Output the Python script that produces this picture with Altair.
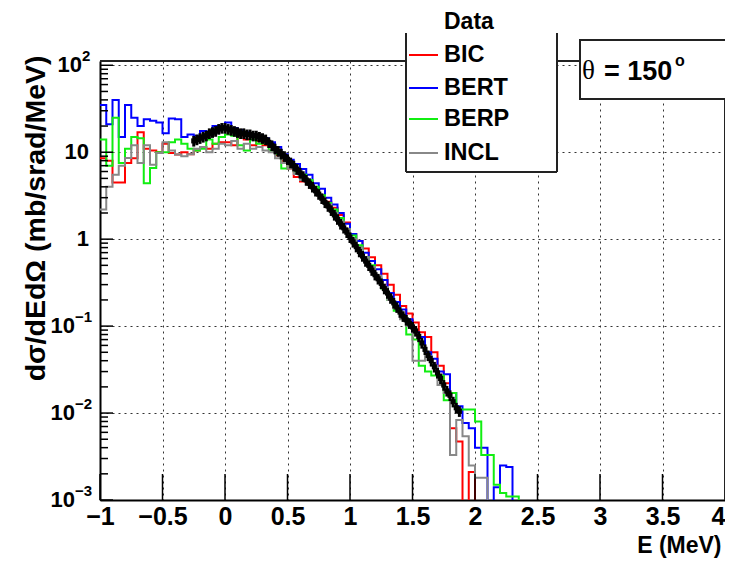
import altair as alt
import pandas as pd

# ---------------- data ----------------
MODEL_E0 = -1.0      # first bin lower edge (MeV)
MODEL_BIN = 0.05     # bin width (MeV)
MODEL_NAMES = ["BIC", "BERT", "BERP", "INCL"]
MODEL_COLORS = ["#ff0000", "#0000ff", "#11ee11", "#888888"]

BIC = [8.5, 8, 4.5, 4.5, 7.5, 8.5, 17, 11, 10.5, 10,
       12.5, 9.8, 9.4, 10, 9.5, 10.5, 11.5, 11, 12.5, 13,
       13, 12, 15.5, 14, 12, 13.5, 12, 11.5, 9.2, 8.0,
       6.5, 5.2, 4.6, 4.6, 3.6, 3.2, 2.7, 2.3, 1.9, 1.55,
       1.15, 0.95, 0.78, 0.62, 0.5, 0.4, 0.3, 0.23, 0.17, 0.14,
       0.11, 0.085, 0.075, 0.05, 0.035, 0.022, 0.0067, 0.0047, 0, 0.0021,
       0, 0, 0, 0, 0, 0, 0, 0]
BERT = [35, 21, 40, 15, 35, 25, 20, 24, 23, 22,
        16.5, 24.5, 24, 15, 16, 15.5, 17.5, 17, 20, 20,
        22, 19, 18, 17, 16, 15.5, 14.5, 13, 11.5, 9.5,
        8.2, 7.3, 6.4, 5.5, 4.4, 3.8, 3.0, 2.5, 2.0, 1.5,
        1.15, 0.95, 0.70, 0.56, 0.45, 0.34, 0.24, 0.19, 0.155, 0.12,
        0.085, 0.075, 0.05, 0.042, 0.03, 0.028, 0.017, 0.012, 0.0077, 0.0067,
        0.004, 0.004, 0, 0.0014, 0.0025, 0.0024, 0, 0]
BERP = [14, 7, 25, 7.5, 11, 15, 14.5, 4.4, 6.6, 10,
        10, 13, 14, 12.5, 11, 10.5, 11, 14, 12.5, 15,
        16, 15.5, 12, 10.5, 14, 12.5, 13, 10.5, 9.5, 6.5,
        7.5, 6.0, 5.5, 4.8, 4.0, 3.2, 2.6, 2.2, 1.75, 1.3,
        1.1, 0.85, 0.62, 0.5, 0.36, 0.27, 0.2, 0.15, 0.13, 0.08,
        0.07, 0.035, 0.03, 0.027, 0.027, 0.014, 0.017, 0.011, 0.011, 0.011,
        0.008, 0.0033, 0.0033, 0.0015, 0.0012, 0.0011, 0.0011, 0]
INCL = [2.2, 4, 5.5, 7, 8.6, 12, 7.5, 12, 7.2, 9.8,
        13, 10.5, 9.4, 9, 9.5, 11, 11.5, 10, 11, 12.5,
        12, 13.5, 11, 12.5, 11, 11.5, 10.5, 10, 8.5, 7.5,
        6.5, 5.6, 4.8, 4.2, 3.6, 3.0, 2.5, 2.0, 1.6, 1.3,
        1.0, 0.8, 0.62, 0.48, 0.38, 0.28, 0.2, 0.16, 0.12, 0.1,
        0.04, 0.04, 0.045, 0.035, 0.021, 0.017, 0.0033, 0.0083, 0.0054, 0.0025,
        0.0018, 0.0018, 0, 0, 0, 0, 0, 0]
MODEL_VALUES = [BIC, BERT, BERP, INCL]

DATA_E0 = -0.25
DATA_STEP = 0.025
DATA_V = [13.5, 14, 14.5, 15, 15.5, 16.5, 17, 17.5, 18.5, 19,
          19, 18.5, 18, 17.5, 17, 16.5, 16.5, 16, 16, 15.5,
          15.5, 15, 14.5, 14, 13, 12, 11, 10.3, 9.6, 9.0,
          8.3, 7.6, 7.0, 6.4, 5.8, 5.3, 4.8, 4.4, 4.0, 3.6,
          3.3, 2.95, 2.65, 2.4, 2.15, 1.9, 1.7, 1.5, 1.35, 1.2,
          1.05, 0.93, 0.82, 0.72, 0.64, 0.56, 0.5, 0.44, 0.39, 0.35,
          0.31, 0.27, 0.24, 0.21, 0.185, 0.165, 0.145, 0.13, 0.118, 0.108,
          0.098, 0.088, 0.076, 0.064, 0.054, 0.046, 0.04, 0.034, 0.029, 0.025,
          0.021, 0.018, 0.016, 0.0135, 0.0115, 0.0105]
DATA_REL_ERR = 0.14

X_TICKS = [-1, -0.5, 0, 0.5, 1, 1.5, 2, 2.5, 3, 3.5, 4]
Y_TICKS = [1e-3, 1e-2, 1e-1, 1, 10, 100]
Y_EXP = [-3, -2, -1, 0, 1, 2]
Y_SUP = ["\u22123", "\u22122", "\u22121", "", "", "2"]
Y_BASE = ["10", "10", "10", "1", "10", "10"]
Y_MINOR = [m * 10.0 ** e for e in range(-3, 2) for m in range(2, 10)]

# ---------------- layout / style ----------------
W, H = 625, 439
FLOOR = 1e-6
FONT = "Liberation Sans"

xs = alt.Scale(domain=[-1, 4], nice=False, zero=False)
ys = alt.Scale(type="log", domain=[1e-3, 112], nice=False)

xaxis = alt.Axis(values=X_TICKS, title="E (MeV)", grid=True, gridDash=[2, 4],
                 gridColor="#333", gridWidth=1, ticks=False,
                 domainColor="black", domainWidth=2,
                 labelFont=FONT, labelFontWeight="bold", labelFontSize=25,
                 labelColor="black", labelPadding=4, labelFlush=False,
                 labelOverlap=False,
                 labelAlign={"condition": {"test": "datum.value >= 4", "value": "right"},
                             "value": "center"},
                 labelExpr="replace(format(datum.value, '~g'), '-', '\u2212')",
                 titleFont=FONT, titleFontWeight="bold", titleFontSize=23,
                 titleColor="black", titleX=621, titleY=52,
                 titleAlign="right", titleBaseline="alphabetic")
yaxis = alt.Axis(values=Y_TICKS, title="d\u03c3/dEd\u03a9 (mb/srad/MeV)",
                 grid=True, gridDash=[2, 4], gridColor="#333", gridWidth=1,
                 ticks=False, labels=False, domainColor="black", domainWidth=2,
                 titleFont=FONT, titleFontWeight="bold", titleFontSize=28.5,
                 titleColor="black", titleAngle=270, titleX=-79, titleY=-6,
                 titleAlign="right", titleBaseline="top")

layers = []

# model histograms
for name, vals, col in zip(MODEL_NAMES, MODEL_VALUES, MODEL_COLORS):
    rows = [{"E": round(MODEL_E0 + MODEL_BIN * i, 4), "v": (v if v > 0 else FLOOR)}
            for i, v in enumerate(vals)]
    rows.append({"E": round(MODEL_E0 + MODEL_BIN * len(vals), 4), "v": FLOOR})
    layers.append(
        alt.Chart(pd.DataFrame(rows)).mark_line(
            interpolate="step-after", color=col, strokeWidth=2, clip=True
        ).encode(x=alt.X("E:Q", scale=xs, axis=xaxis),
                 y=alt.Y("v:Q", scale=ys, axis=yaxis))
    )

# experimental data with error bars
dd = pd.DataFrame({"E": [round(DATA_E0 + DATA_STEP * i, 4) for i in range(len(DATA_V))],
                   "v": DATA_V})
dd["lo"] = dd["v"] * (1 - DATA_REL_ERR)
dd["hi"] = dd["v"] * (1 + DATA_REL_ERR)
dd["E_lo"] = dd["E"] - DATA_STEP / 2
dd["E_hi"] = dd["E"] + DATA_STEP / 2
base_d = alt.Chart(dd)
layers.append(base_d.mark_rule(color="black", strokeWidth=3, clip=True).encode(
    x=alt.X("E:Q", scale=xs, axis=xaxis), y=alt.Y("lo:Q", scale=ys, axis=yaxis), y2="hi:Q"))
layers.append(base_d.mark_rule(color="black", strokeWidth=3, clip=True).encode(
    x=alt.X("E_lo:Q", scale=xs, axis=xaxis), x2="E_hi:Q",
    y=alt.Y("v:Q", scale=ys, axis=yaxis)))
layers.append(base_d.mark_square(color="black", size=26, opacity=1, clip=True).encode(
    x=alt.X("E:Q", scale=xs, axis=xaxis), y=alt.Y("v:Q", scale=ys, axis=yaxis)))

# inner ticks (ROOT style)
layers.append(alt.Chart(pd.DataFrame({"v": Y_TICKS})).mark_rule(color="black", strokeWidth=1.5).encode(
    y=alt.Y("v:Q", scale=ys, axis=yaxis), x=alt.value(0), x2=alt.value(13)))
layers.append(alt.Chart(pd.DataFrame({"v": Y_MINOR})).mark_rule(color="black", strokeWidth=1.5).encode(
    y=alt.Y("v:Q", scale=ys, axis=yaxis), x=alt.value(0), x2=alt.value(8)))
layers.append(alt.Chart(pd.DataFrame({"E": X_TICKS})).mark_rule(color="black", strokeWidth=1.5).encode(
    x=alt.X("E:Q", scale=xs, axis=xaxis), y=alt.value(H), y2=alt.value(H - 26)))

# y tick labels: "10" with superscript exponent (ROOT style)
yl = pd.DataFrame({"v": Y_TICKS, "exp": Y_EXP, "base": Y_BASE, "sup": Y_SUP})
yl["bx"] = [-25 if e < 0 else (-18 if e > 1 else -11) for e in Y_EXP]
layers.append(alt.Chart(yl).mark_text(font=FONT, fontWeight="bold", fontSize=22, color="black",
                                      align="right", baseline="middle").encode(
    y=alt.Y("v:Q", scale=ys, axis=yaxis), x=alt.X("bx:Q", scale=None), text="base:N"))
layers.append(alt.Chart(yl[yl["sup"] != ""]).mark_text(font=FONT, fontWeight="bold", fontSize=15,
                                                       color="black", align="left", baseline="middle",
                                                       dy=-9).encode(
    y=alt.Y("v:Q", scale=ys, axis=yaxis), x=alt.X("bx:Q", scale=None), text="sup:N"))

one = pd.DataFrame({"a": [0]})

def rule(x1, x2, y1, y2, col="#222", w=2):
    return alt.Chart(one).mark_rule(color=col, strokeWidth=w).encode(
        x=alt.value(x1), x2=alt.value(x2), y=alt.value(y1), y2=alt.value(y2))

def text(s, x, y, size, weight="bold", font=FONT, align="left"):
    return alt.Chart(one).mark_text(text=s, font=font, fontSize=size, fontWeight=weight,
                                    color="black", align=align, baseline="middle").encode(
        x=alt.value(x), y=alt.value(y))

# frame top / right
layers.append(rule(0, W, 0, 0))
layers.append(rule(W, W, 0, H))

# legend box
layers.append(alt.Chart(one).mark_rect(fill="white").encode(
    x=alt.value(306), x2=alt.value(457), y=alt.value(-61), y2=alt.value(111)))
layers.append(rule(306, 306, -28, 111))
layers.append(rule(457, 457, -28, 111))
layers.append(rule(306, 457, 111, 111))
layers.append(text("Data", 344, -39, 23))
LEG_Y = [-6, 27, 58, 92]
for name, col, py in zip(MODEL_NAMES, MODEL_COLORS, LEG_Y):
    layers.append(rule(309, 338, py, py, col=col, w=2))
    layers.append(text(name, 344, py, 23.5))

# theta box
layers.append(alt.Chart(one).mark_rect(fill="white", stroke="#222", strokeWidth=2).encode(
    x=alt.value(480), x2=alt.value(660), y=alt.value(-21), y2=alt.value(38)))
layers.append(text("\u03b8", 482, 10, 27, weight="normal", font="Liberation Serif"))
layers.append(text("= 150", 504, 11, 27))
layers.append(text("o", 575, 0, 16))

chart = alt.layer(*layers).properties(
    width=W, height=H,
    padding={"left": 92, "top": 53, "right": 0, "bottom": 58},
    autosize=alt.AutoSizeParams(type="none"),
).configure_view(stroke=None).configure(background="white")

chart.save("out.html", embed_options={"renderer": "svg", "actions": False})
